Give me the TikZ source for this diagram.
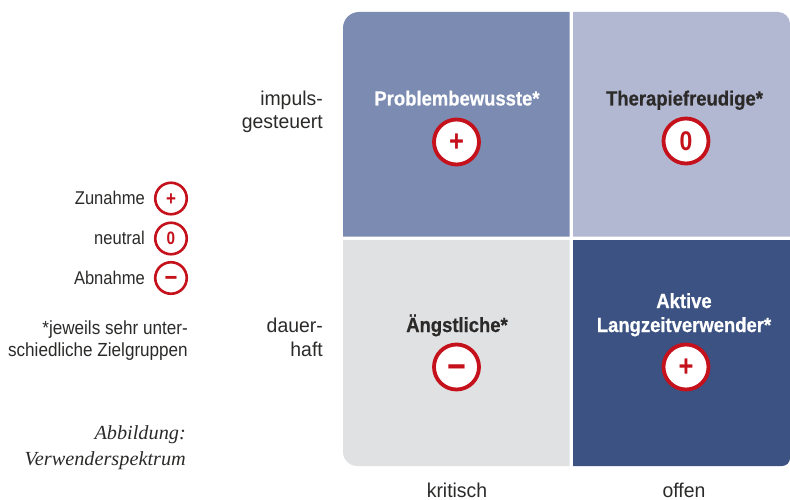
\documentclass[tikz,border=0pt]{standalone}
\usepackage{fontspec}
\setmainfont{Liberation Sans}
\newfontfamily\axisf[FakeStretch=0.97]{Liberation Sans}
\newfontfamily\legf[FakeStretch=0.894]{Liberation Sans}
\newfontfamily\notef[FakeStretch=0.90]{Liberation Sans}
\newfontfamily\headf[FakeStretch=0.90,FakeBold=0.6]{Liberation Sans}
\newfontfamily\signf[FakeStretch=0.85]{Liberation Sans}
\newfontfamily\capt[FakeStretch=1.014]{Liberation Serif}
\definecolor{midblue}{HTML}{7C8BB1}
\definecolor{lightblue}{HTML}{B3B8D2}
\definecolor{lightgrey}{HTML}{E0E1E3}
\definecolor{darkblue}{HTML}{3B5282}
\definecolor{signred}{HTML}{C4111B}
\definecolor{ink}{HTML}{2B2A29}
\newcommand{\centredsign}[2]{{\fontsize{#1}{#1}\selectfont\raisebox{-0.33em}[0pt][0pt]{#2}}}
\tikzset{
  x=1pt,y=-1pt,
  lbl/.style={font=\legf\fontsize{18.5}{24}\selectfont,text=ink,inner sep=0pt,anchor=base east},
  small/.style={font=\notef\fontsize{19}{21.7}\selectfont,text=ink,inner sep=0pt,align=right,anchor=base east},
  axis/.style={font=\axisf\fontsize{20}{23.7}\selectfont,text=ink,inner sep=0pt,anchor=base},
  head/.style={font=\headf\bfseries\fontsize{20.5}{24}\selectfont,inner sep=0pt,align=center,anchor=base},
  bigsign/.style={circle,draw=signred,line width=3.8pt,fill=white,minimum size=45pt,inner sep=0pt,text=signred,font=\signf\bfseries\fontsize{27}{27}\selectfont},
  smallsign/.style={circle,draw=signred,line width=2.6pt,fill=white,minimum size=31.5pt,inner sep=0pt,text=signred,font=\signf\bfseries\fontsize{18}{18}\selectfont},
  caption/.style={font=\capt\itshape\fontsize{20}{26}\selectfont,text=ink,inner sep=0pt,align=right,anchor=base east},
}
\begin{document}
\begin{tikzpicture}
\useasboundingbox (0,0) rectangle (790,500);
% quadrants
\fill[midblue] (343,236.5) [rounded corners=16pt] -- (343,12) [sharp corners] -- (569.5,12) -- (569.5,236.5) -- cycle;
\fill[lightblue] (573,236.5) -- (573,12) [rounded corners=12pt] -- (790,12) [sharp corners] -- (790,236.5) -- cycle;
\fill[lightgrey] (569.5,240) -- (343,240) [rounded corners=14pt] -- (343,466) [sharp corners] -- (569.5,466) -- cycle;
\fill[darkblue] (573,240) -- (790,240) [rounded corners=8pt] -- (790,466) [sharp corners] -- (573,466) -- cycle;
% headings
\node[head,text=white] (h1) at (457,105.5) {Problembewusste*};
\node[head,text=ink] (h2) at (684.5,105.5) {Therapiefreudige*};
\node[head,text=ink] (h3) at (457,332) {Ängstliche*};
\node[head,text=white] (h4) at (684,332) {Aktive\\Langzeitverwender*};
% signs
\node[bigsign] (s1) at (456.5,142) {\centredsign{30}{+}};
\node[bigsign] (s2) at (686,141) {0};
\node[bigsign] (s3) at (456.5,367) {\centredsign{38}{\symbol{"2212}}};
\node[bigsign] (s4) at (686,367) {\centredsign{30}{+}};
% axis labels
\node[axis,align=right,anchor=base east] (y1) at (323,129) {impuls-\\gesteuert};
\node[axis,align=right,anchor=base east] (y2) at (323,356) {dauer-\\haft};
\node[axis] (x1) at (457,497) {kritisch};
\node[axis] (x2) at (684,497) {offen};
% legend
\node[smallsign] (l1) at (171,198.5) {\centredsign{20}{+}};
\node[smallsign] (l2) at (171,238.5) {0};
\node[smallsign] (l3) at (171,278) {\centredsign{26}{\symbol{"2212}}};
\node[lbl] (t1) at (145,204.3) {Zunahme};
\node[lbl] (t2) at (145,244.3) {neutral};
\node[lbl] (t3) at (145,284.3) {Abnahme};
\node[small] (note) at (188,356) {*jeweils sehr unter-\\schiedliche Zielgruppen};
\node[caption] (cap) at (186,465) {Abbildung:\\Verwenderspektrum};
\end{tikzpicture}
\end{document}
